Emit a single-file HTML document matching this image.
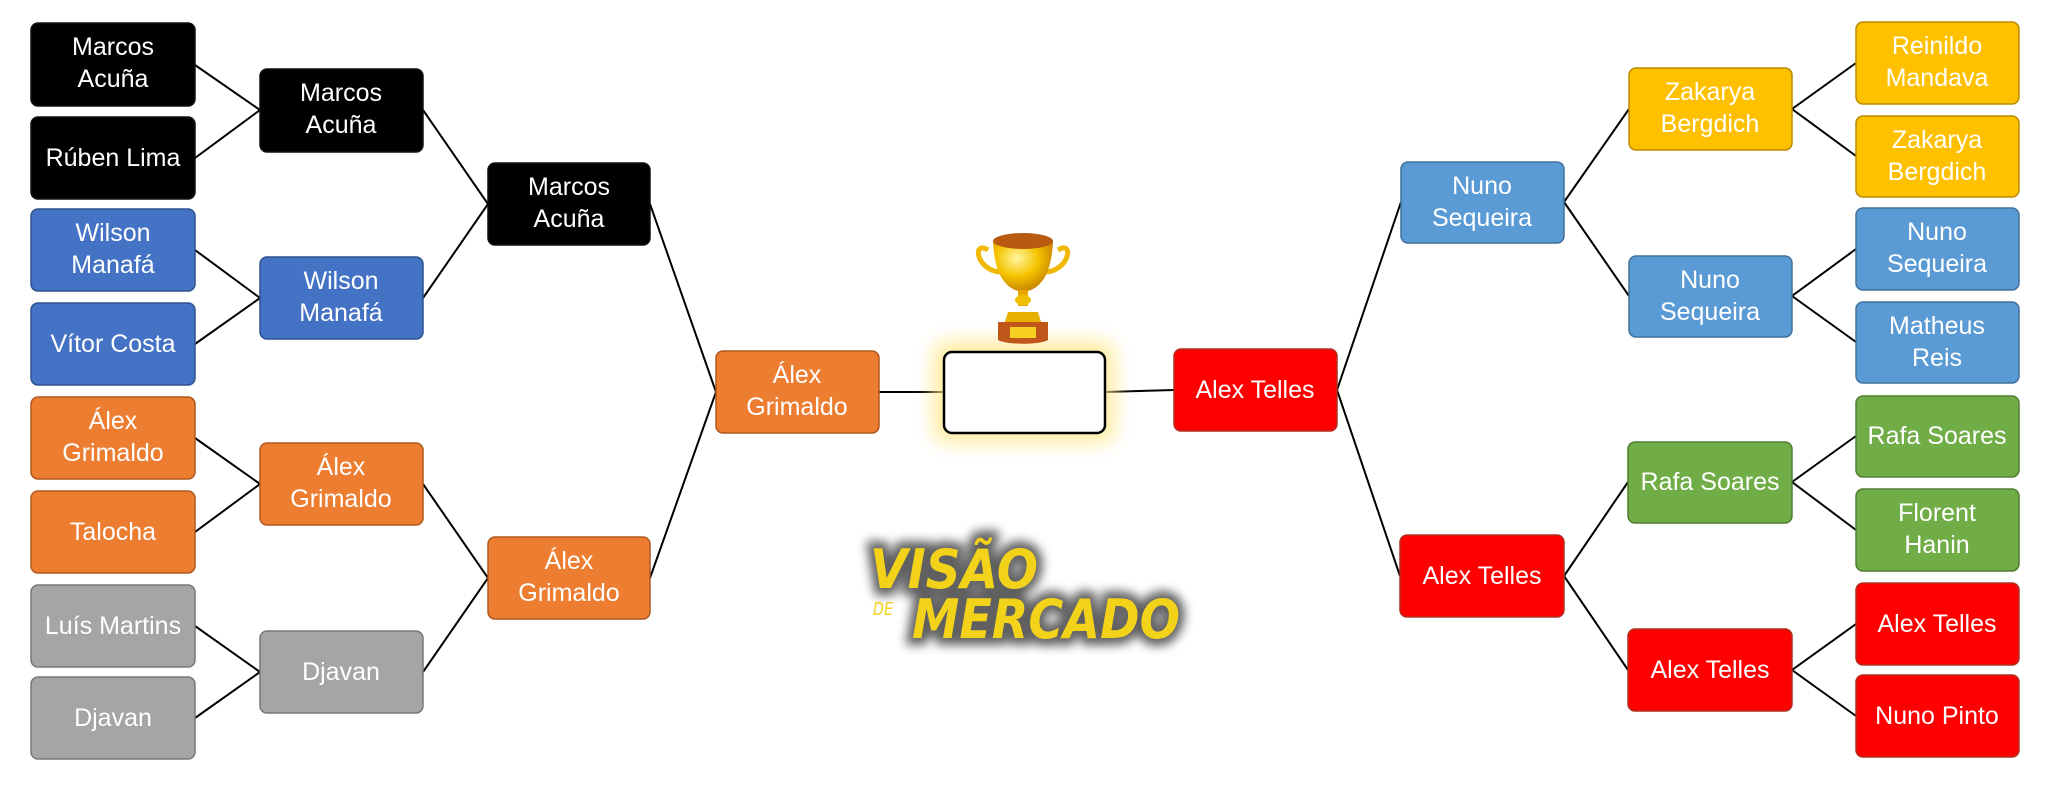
<!DOCTYPE html>
<html><head><meta charset="utf-8"><style>
html,body{margin:0;padding:0;background:#fff;}
svg{display:block;}
.t{font-family:"Liberation Sans Narrow","Liberation Sans",sans-serif;font-size:25px;fill:#fff;text-anchor:middle;}
</style></head><body>
<svg width="2048" height="787" viewBox="0 0 2048 787" xmlns="http://www.w3.org/2000/svg">
<defs>
<filter id="glow" x="-30%" y="-40%" width="160%" height="180%"><feGaussianBlur stdDeviation="9"/></filter>
<filter id="lg" x="-10%" y="-30%" width="120%" height="160%"><feGaussianBlur stdDeviation="5"/></filter>
<radialGradient id="gold" cx="40%" cy="35%" r="70%"><stop offset="0" stop-color="#fff6a0"/><stop offset="0.5" stop-color="#f5c400"/><stop offset="1" stop-color="#c07800"/></radialGradient>
</defs>
<g stroke="#000" stroke-width="2" fill="none">
<path d="M195 65 L260 110 L195 158"/><path d="M195 250 L260 298 L195 344"/>
<path d="M195 438 L260 484 L195 532"/><path d="M195 626 L260 672 L195 718"/>
<path d="M423 110 L488 204 L423 298"/><path d="M423 484 L488 578 L423 672"/>
<path d="M650 204 L716 392 L650 578"/>
<path d="M879 392 L943 392"/><path d="M1105 392 L1174 390"/>
<path d="M1401 202 L1337 390 L1400 576"/>
<path d="M1564 202 L1629 109 M1564 202 L1629 296"/>
<path d="M1564 576 L1628 482 M1564 576 L1628 670"/>
<path d="M1856 63 L1792 109 L1856 156"/><path d="M1856 249 L1792 296 L1856 342"/>
<path d="M1856 436 L1792 482 L1856 530"/><path d="M1856 624 L1792 670 L1856 716"/>
</g>
<rect x="933" y="341" width="182" height="102" rx="14" fill="#ffe88a" opacity="0.8" filter="url(#glow)"/>
<rect x="944" y="352" width="161" height="81" rx="8" fill="#fff" stroke="#000" stroke-width="2.5"/>
<g>
<path d="M988 250 C972 240 976 270 1000 272" stroke="#f0b800" stroke-width="5" fill="none"/>
<path d="M1058 250 C1074 240 1070 270 1046 272" stroke="#f0b800" stroke-width="5" fill="none"/>
<path d="M993 240 L1053 240 C1052 275 1040 290 1023 292 C1006 290 994 275 993 240 Z" fill="url(#gold)"/>
<ellipse cx="1023" cy="241" rx="30" ry="8" fill="#b85a10"/>
<rect x="1018" y="290" width="10" height="16" fill="#e8a800"/>
<ellipse cx="1023" cy="300" rx="8" ry="5" fill="#f0c000"/>
<path d="M1008 312 L1038 312 L1046 338 L1000 338 Z" fill="#e8b000"/>
<path d="M998 322 L1048 322 L1048 340 C1040 345 1006 345 998 340 Z" fill="#c0561a"/>
<rect x="1010" y="327" width="26" height="11" fill="#f5d020"/>
</g>
<g font-family="DejaVu Sans, sans-serif" font-weight="bold" font-style="italic">
<g filter="url(#lg)" fill="#444" stroke="#444" stroke-width="14" opacity="0.85">
<text x="870" y="588" font-size="54" textLength="168" lengthAdjust="spacingAndGlyphs">VISÃO</text>
<text x="912" y="638" font-size="54" textLength="268" lengthAdjust="spacingAndGlyphs">MERCADO</text>
</g>
<text x="870" y="588" font-size="54" fill="#f3d21a" textLength="168" lengthAdjust="spacingAndGlyphs">VISÃO</text>
<text x="873" y="615" font-size="18" font-weight="normal" fill="#f3d21a" textLength="20" lengthAdjust="spacingAndGlyphs">DE</text>
<text x="912" y="638" font-size="54" fill="#f3d21a" textLength="268" lengthAdjust="spacingAndGlyphs">MERCADO</text>
</g>
<g stroke-width="1.5">
<rect x="31" y="23" width="164" height="83" rx="7" fill="#000" stroke="#111"/>
<rect x="31" y="117" width="164" height="82" rx="7" fill="#000" stroke="#111"/>
<rect x="31" y="209" width="164" height="82" rx="7" fill="#4472C4" stroke="#2f528f"/>
<rect x="31" y="303" width="164" height="82" rx="7" fill="#4472C4" stroke="#2f528f"/>
<rect x="31" y="397" width="164" height="82" rx="7" fill="#ED7D31" stroke="#ae5a21"/>
<rect x="31" y="491" width="164" height="82" rx="7" fill="#ED7D31" stroke="#ae5a21"/>
<rect x="31" y="585" width="164" height="82" rx="7" fill="#A5A5A5" stroke="#787878"/>
<rect x="31" y="677" width="164" height="82" rx="7" fill="#A5A5A5" stroke="#787878"/>
<rect x="260" y="69" width="163" height="83" rx="7" fill="#000" stroke="#111"/>
<rect x="260" y="257" width="163" height="82" rx="7" fill="#4472C4" stroke="#2f528f"/>
<rect x="260" y="443" width="163" height="82" rx="7" fill="#ED7D31" stroke="#ae5a21"/>
<rect x="260" y="631" width="163" height="82" rx="7" fill="#A5A5A5" stroke="#787878"/>
<rect x="488" y="163" width="162" height="82" rx="7" fill="#000" stroke="#111"/>
<rect x="488" y="537" width="162" height="82" rx="7" fill="#ED7D31" stroke="#ae5a21"/>
<rect x="716" y="351" width="163" height="82" rx="7" fill="#ED7D31" stroke="#ae5a21"/>
<rect x="1174" y="349" width="163" height="82" rx="7" fill="#FF0000" stroke="#b03020"/>
<rect x="1401" y="162" width="163" height="81" rx="7" fill="#5B9BD5" stroke="#41719c"/>
<rect x="1400" y="535" width="164" height="82" rx="7" fill="#FF0000" stroke="#b03020"/>
<rect x="1629" y="68" width="163" height="82" rx="7" fill="#FFC000" stroke="#bc8c00"/>
<rect x="1629" y="256" width="163" height="81" rx="7" fill="#5B9BD5" stroke="#41719c"/>
<rect x="1628" y="442" width="164" height="81" rx="7" fill="#70AD47" stroke="#507e32"/>
<rect x="1628" y="629" width="164" height="82" rx="7" fill="#FF0000" stroke="#b03020"/>
<rect x="1856" y="22" width="163" height="82" rx="7" fill="#FFC000" stroke="#bc8c00"/>
<rect x="1856" y="116" width="163" height="81" rx="7" fill="#FFC000" stroke="#bc8c00"/>
<rect x="1856" y="208" width="163" height="82" rx="7" fill="#5B9BD5" stroke="#41719c"/>
<rect x="1856" y="302" width="163" height="81" rx="7" fill="#5B9BD5" stroke="#41719c"/>
<rect x="1856" y="396" width="163" height="81" rx="7" fill="#70AD47" stroke="#507e32"/>
<rect x="1856" y="489" width="163" height="82" rx="7" fill="#70AD47" stroke="#507e32"/>
<rect x="1856" y="583" width="163" height="82" rx="7" fill="#FF0000" stroke="#b03020"/>
<rect x="1856" y="675" width="163" height="82" rx="7" fill="#FF0000" stroke="#b03020"/>
</g>
<g class="t">
<text x="113" y="55">Marcos</text><text x="113" y="87">Acuña</text>
<text x="113" y="166">Rúben Lima</text>
<text x="113" y="241">Wilson</text><text x="113" y="273">Manafá</text>
<text x="113" y="352">Vítor Costa</text>
<text x="113" y="429">Álex</text><text x="113" y="461">Grimaldo</text>
<text x="113" y="540">Talocha</text>
<text x="113" y="634">Luís Martins</text>
<text x="113" y="726">Djavan</text>
<text x="341" y="101">Marcos</text><text x="341" y="133">Acuña</text>
<text x="341" y="289">Wilson</text><text x="341" y="321">Manafá</text>
<text x="341" y="475">Álex</text><text x="341" y="507">Grimaldo</text>
<text x="341" y="680">Djavan</text>
<text x="569" y="195">Marcos</text><text x="569" y="227">Acuña</text>
<text x="569" y="569">Álex</text><text x="569" y="601">Grimaldo</text>
<text x="797" y="383">Álex</text><text x="797" y="415">Grimaldo</text>
<text x="1255" y="398">Alex Telles</text>
<text x="1482" y="194">Nuno</text><text x="1482" y="226">Sequeira</text>
<text x="1482" y="584">Alex Telles</text>
<text x="1710" y="100">Zakarya</text><text x="1710" y="132">Bergdich</text>
<text x="1710" y="288">Nuno</text><text x="1710" y="320">Sequeira</text>
<text x="1710" y="490">Rafa Soares</text>
<text x="1710" y="678">Alex Telles</text>
<text x="1937" y="54">Reinildo</text><text x="1937" y="86">Mandava</text>
<text x="1937" y="148">Zakarya</text><text x="1937" y="180">Bergdich</text>
<text x="1937" y="240">Nuno</text><text x="1937" y="272">Sequeira</text>
<text x="1937" y="334">Matheus</text><text x="1937" y="366">Reis</text>
<text x="1937" y="444">Rafa Soares</text>
<text x="1937" y="521">Florent</text><text x="1937" y="553">Hanin</text>
<text x="1937" y="632">Alex Telles</text>
<text x="1937" y="724">Nuno Pinto</text>
</g>
</svg>
</body></html>
